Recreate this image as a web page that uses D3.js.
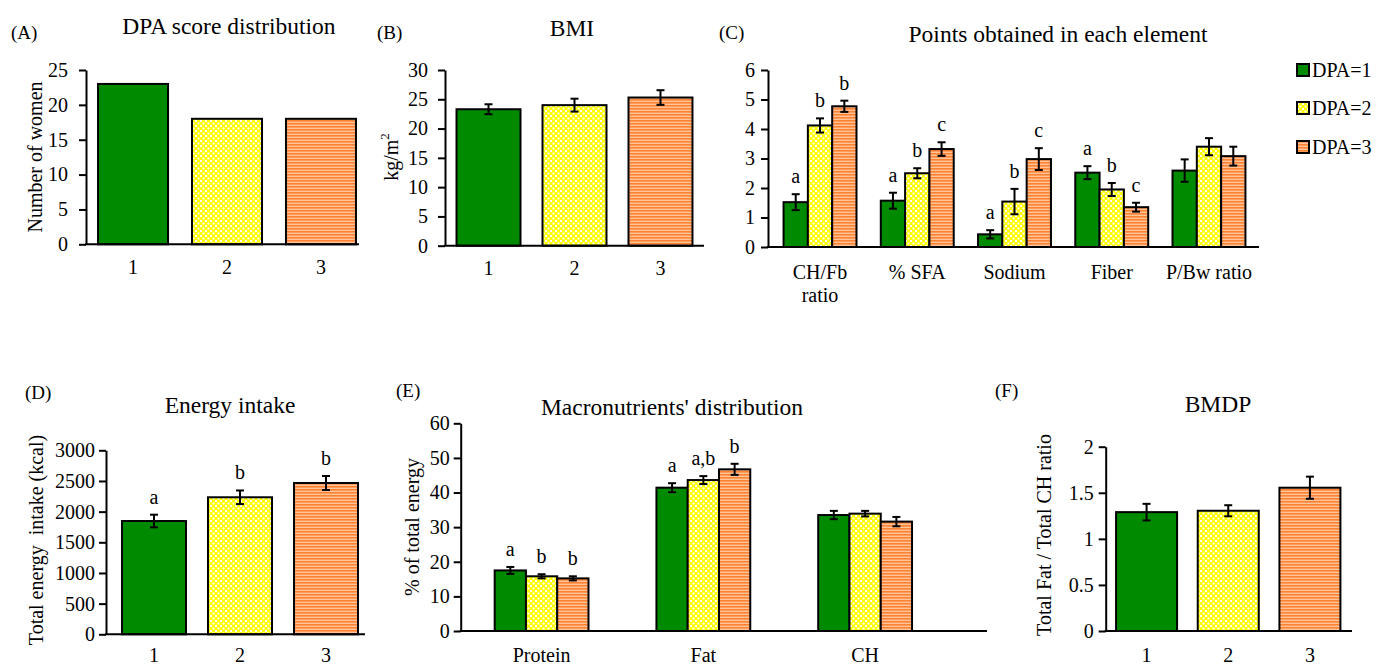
<!DOCTYPE html>
<html>
<head>
<meta charset="utf-8">
<script src="https://cdn.jsdelivr.net/npm/d3@7"></script>
<style>
  body { margin: 0; background: #fff; }
  svg { display: block; }
  svg text { font-family: 'Liberation Serif', 'Times New Roman', serif; }
</style>
</head>
<body>
<script>
// ---- data ----
const dpaLevels = ['1', '2', '3'];
const legendNames = ['DPA=1', 'DPA=2', 'DPA=3'];

const womenCount = [23, 18, 18];
const countTicks = [0, 5, 10, 15, 20, 25];

const bmiMean = [23.3, 24.0, 25.3];
const bmiSem = [0.85, 1.1, 1.25];
const bmiTicks = [0, 5, 10, 15, 20, 25, 30];

const elementLines = [['CH/Fb', 'ratio'], ['% SFA'], ['Sodium'], ['Fiber'], ['P/Bw ratio']];
const pointsDpa1 = [1.52, 1.57, 0.43, 2.52, 2.59];
const pointsDpa1Sem = [0.27, 0.27, 0.14, 0.22, 0.38];
const pointsDpa1Letters = ['a', 'a', 'a', 'a', ''];
const pointsDpa2 = [4.12, 2.5, 1.54, 1.95, 3.4];
const pointsDpa2Sem = [0.24, 0.17, 0.43, 0.22, 0.29];
const pointsDpa2Letters = ['b', 'b', 'b', 'b', ''];
const pointsDpa3 = [4.77, 3.32, 2.98, 1.35, 3.08];
const pointsDpa3Sem = [0.19, 0.23, 0.37, 0.15, 0.32];
const pointsDpa3Letters = ['b', 'c', 'c', 'c', ''];
const pointsTicks = [0, 1, 2, 3, 4, 5, 6];

const energyMean = [1847, 2234, 2467];
const energySem = [103, 111, 114];
const energyLetters = ['a', 'b', 'b'];
const energyTicks = [0, 500, 1000, 1500, 2000, 2500, 3000];

const macroNames = ['Protein', 'Fat', 'CH'];
const macroDpa1 = [17.5, 41.4, 33.5];
const macroDpa1Sem = [1.0, 1.3, 1.2];
const macroDpa1Letters = ['a', 'a', ''];
const macroDpa2 = [15.8, 43.6, 33.9];
const macroDpa2Sem = [0.6, 1.15, 0.8];
const macroDpa2Letters = ['b', 'a,b', ''];
const macroDpa3 = [15.2, 46.7, 31.6];
const macroDpa3Sem = [0.6, 1.6, 1.35];
const macroDpa3Letters = ['b', 'b', ''];
const macroTicks = [0, 10, 20, 30, 40, 50, 60];

const bmdpMean = [1.29, 1.305, 1.555];
const bmdpSem = [0.09, 0.06, 0.12];
const bmdpTicks = [0, 0.5, 1, 1.5, 2];

// ---- setup ----
const w = 1376;
const h = 666;
const serif = "'Liberation Serif', 'Times New Roman', serif";
const svg = d3.select('body').append('svg').attr('width', w).attr('height', h)
  .attr('font-family', serif);
svg.append('rect').attr('width', w).attr('height', h).attr('fill', '#fff');

const defs = svg.append('defs');
const dots = defs.append('pattern').attr('id', 'yellowDots')
  .attr('patternUnits', 'userSpaceOnUse').attr('width', 5).attr('height', 5);
dots.append('rect').attr('width', 5).attr('height', 5).attr('fill', '#ffff00');
dots.append('rect').attr('x', 0).attr('y', 0).attr('width', 2).attr('height', 2).attr('fill', '#fff');
dots.append('rect').attr('x', 2.5).attr('y', 2.5).attr('width', 2).attr('height', 2).attr('fill', '#fff');

const stripes = defs.append('pattern').attr('id', 'orangeStripes')
  .attr('patternUnits', 'userSpaceOnUse').attr('width', 4).attr('height', 3);
stripes.append('rect').attr('width', 4).attr('height', 3).attr('fill', '#ffc49a');
stripes.append('rect').attr('y', 0).attr('width', 4).attr('height', 1.6).attr('fill', '#ff8233');

const fills = ['#008a00', 'url(#yellowDots)', 'url(#orangeStripes)'];
const labelFont = 20;
const titleFont = 23.5;

function drawPanel(cfg) {
  const g = svg.append('g');
  const x = d3.scaleBand()
    .domain(d3.range(cfg.categories.length))
    .range(cfg.xRange)
    .paddingInner(cfg.pi)
    .paddingOuter(cfg.po);
  const x1 = d3.scaleBand()
    .domain(d3.range(cfg.series.length))
    .range([0, x.bandwidth()]);
  const y = d3.scaleLinear().domain([0, cfg.yMax]).range([cfg.yZero, cfg.yTop]);

  const rows = cfg.series.flatMap((s, si) =>
    s.values.map((v, i) => ({
      si, i, v,
      e: s.errs ? s.errs[i] : null,
      l: s.letters ? s.letters[i] : '',
    }))
  );
  const bx = (d) => x(d.i) + x1(d.si);
  const bw = x1.bandwidth();

  g.selectAll('rect.bar')
    .data(rows)
    .enter()
    .append('rect')
    .attr('class', 'bar')
    .attr('x', bx)
    .attr('y', (d) => y(d.v))
    .attr('width', bw)
    .attr('height', (d) => cfg.yZero - y(d.v))
    .attr('fill', (d) => fills[cfg.colorByCategory ? d.i : d.si])
    .attr('stroke', '#000')
    .attr('stroke-width', 2);

  // error bars
  const errRows = rows.filter((d) => d.e != null);
  const eg = g.selectAll('g.err').data(errRows).enter().append('g').attr('class', 'err')
    .attr('stroke', '#000').attr('stroke-width', 2);
  eg.append('line')
    .attr('x1', (d) => bx(d) + bw / 2).attr('x2', (d) => bx(d) + bw / 2)
    .attr('y1', (d) => y(d.v - d.e)).attr('y2', (d) => y(d.v + d.e));
  eg.append('line')
    .attr('x1', (d) => bx(d) + bw / 2 - 4).attr('x2', (d) => bx(d) + bw / 2 + 4)
    .attr('y1', (d) => y(d.v + d.e)).attr('y2', (d) => y(d.v + d.e));
  eg.append('line')
    .attr('x1', (d) => bx(d) + bw / 2 - 4).attr('x2', (d) => bx(d) + bw / 2 + 4)
    .attr('y1', (d) => y(d.v - d.e)).attr('y2', (d) => y(d.v - d.e));

  // significance letters
  g.selectAll('text.letter')
    .data(rows.filter((d) => d.l))
    .enter()
    .append('text')
    .attr('class', 'letter')
    .attr('x', (d) => bx(d) + bw / 2)
    .attr('y', (d) => y(d.v + (d.e || 0)) - 11)
    .attr('text-anchor', 'middle')
    .attr('font-size', labelFont)
    .text((d) => d.l);

  // y axis
  const yAxis = g.append('g')
    .attr('transform', `translate(${cfg.xRange[0]},0)`)
    .call(d3.axisLeft(y).tickValues(cfg.yTicks).tickFormat(String)
      .tickSize(7).tickSizeOuter(0).tickPadding(cfg.tickPad));
  yAxis.attr('font-family', serif).attr('font-size', null);
  yAxis.selectAll('text').attr('font-size', labelFont).attr('fill', '#000');
  yAxis.selectAll('line, path').attr('stroke', '#000').attr('stroke-width', 2);

  // x axis
  const xAxis = g.append('g')
    .attr('transform', `translate(0,${cfg.yZero})`)
    .call(d3.axisBottom(x).tickSize(0).tickFormat(() => ''));
  xAxis.select('.domain')
    .attr('d', `M${cfg.xRange[0] - 1},0H${cfg.axisEnd}`)
    .attr('stroke', '#000').attr('stroke-width', 2);

  const cat = g.selectAll('text.cat')
    .data(cfg.categories)
    .enter()
    .append('text')
    .attr('class', 'cat')
    .attr('text-anchor', 'middle')
    .attr('font-size', labelFont)
    .attr('y', cfg.yZero + cfg.catOffset);
  cat.each(function (lines, i) {
    const t = d3.select(this);
    [].concat(lines).forEach((line, li) => {
      t.append('tspan')
        .attr('x', x(i) + x.bandwidth() / 2)
        .attr('dy', li === 0 ? 0 : 23)
        .text(line);
    });
  });

  // panel letter, title, y label
  svg.append('text').attr('x', cfg.tag[0]).attr('y', cfg.tag[1])
    .attr('font-size', 19).text(cfg.tagText);
  svg.append('text').attr('x', cfg.title[0]).attr('y', cfg.title[1])
    .attr('text-anchor', 'middle').attr('font-size', titleFont).text(cfg.titleText);
  if (cfg.yLabel) {
    const yl = svg.append('text')
      .attr('transform', `translate(${cfg.yLabel[0]},${cfg.yLabel[1]}) rotate(-90)`)
      .attr('text-anchor', 'middle')
      .attr('dominant-baseline', 'central')
      .attr('font-size', labelFont);
    yl.append('tspan').text(cfg.yLabelText);
    if (cfg.yLabelSup) {
      yl.append('tspan').attr('dy', -7).attr('font-size', 13).text(cfg.yLabelSup);
    }
  }
}

// (A)
drawPanel({
  categories: dpaLevels,
  series: [{ values: womenCount }],
  colorByCategory: true,
  xRange: [86, 368], pi: 0.255, po: 0.128, axisEnd: 359,
  yZero: 244.3, yTop: 70, yMax: 25, yTicks: countTicks, tickPad: 11, catOffset: 30,
  tag: [11, 39], tagText: '(A)',
  title: [229, 34], titleText: 'DPA score distribution',
  yLabel: [35, 157], yLabelText: 'Number of women',
});

// (B)
drawPanel({
  categories: dpaLevels,
  series: [{ values: bmiMean, errs: bmiSem }],
  colorByCategory: true,
  xRange: [445, 704], pi: 0.256, po: 0.134, axisEnd: 704,
  yZero: 245.7, yTop: 70, yMax: 30, yTicks: bmiTicks, tickPad: 10, catOffset: 29,
  tag: [377, 39], tagText: '(B)',
  title: [572, 36], titleText: 'BMI',
  yLabel: [391, 157], yLabelText: 'kg/m', yLabelSup: '2',
});

// (C)
drawPanel({
  categories: elementLines,
  series: [
    { values: pointsDpa1, errs: pointsDpa1Sem, letters: pointsDpa1Letters },
    { values: pointsDpa2, errs: pointsDpa2Sem, letters: pointsDpa2Letters },
    { values: pointsDpa3, errs: pointsDpa3Sem, letters: pointsDpa3Letters },
  ],
  colorByCategory: false,
  xRange: [768, 1261], pi: 0.25, po: 0.16, axisEnd: 1259,
  yZero: 247, yTop: 70, yMax: 6, yTicks: pointsTicks, tickPad: 6, catOffset: 32,
  tag: [719, 39], tagText: '(C)',
  title: [1058, 42], titleText: 'Points obtained in each element',
});

// legend
const legend = svg.append('g').attr('transform', 'translate(1297,0)');
const legendRows = legend.selectAll('g').data(legendNames).enter().append('g')
  .attr('transform', (d, i) => `translate(0,${[70, 108, 147][i]})`);
legendRows.append('rect')
  .attr('x', 0).attr('y', -6).attr('width', 12).attr('height', 12)
  .attr('fill', (d, i) => fills[i]).attr('stroke', '#000').attr('stroke-width', 2);
legendRows.append('text')
  .attr('x', 15).attr('y', 7).attr('font-size', labelFont).text((d) => d);

// (D)
drawPanel({
  categories: dpaLevels,
  series: [{ values: energyMean, errs: energySem, letters: energyLetters }],
  colorByCategory: true,
  xRange: [106, 374], pi: 0.256, po: 0.186, axisEnd: 365,
  yZero: 634.3, yTop: 450.3, yMax: 3000, yTicks: energyTicks, tickPad: 4, catOffset: 28,
  tag: [25, 399], tagText: '(D)',
  title: [230, 413], titleText: 'Energy intake',
  yLabel: [36, 540], yLabelText: 'Total energy\u00a0 intake (kcal)',
});

// (E)
drawPanel({
  categories: macroNames,
  series: [
    { values: macroDpa1, errs: macroDpa1Sem, letters: macroDpa1Letters },
    { values: macroDpa2, errs: macroDpa2Sem, letters: macroDpa2Letters },
    { values: macroDpa3, errs: macroDpa3Sem, letters: macroDpa3Letters },
  ],
  colorByCategory: false,
  xRange: [460.7, 946], pi: 0.42, po: 0.21, axisEnd: 987,
  yZero: 631, yTop: 423.3, yMax: 60, yTicks: macroTicks, tickPad: 4, catOffset: 31,
  tag: [396, 397], tagText: '(E)',
  title: [672, 415], titleText: "Macronutrients' distribution",
  yLabel: [412, 527], yLabelText: '% of total energy',
});

// (F)
drawPanel({
  categories: dpaLevels,
  series: [{ values: bmdpMean, errs: bmdpSem }],
  colorByCategory: true,
  xRange: [1105.7, 1350.8], pi: 0.253, po: 0.127, axisEnd: 1352,
  yZero: 631, yTop: 446.7, yMax: 2, yTicks: bmdpTicks, tickPad: 5, catOffset: 31,
  tag: [995, 397], tagText: '(F)',
  title: [1218, 412], titleText: 'BMDP',
  yLabel: [1044, 535], yLabelText: 'Total Fat / Total CH ratio',
});
</script>
</body>
</html>
